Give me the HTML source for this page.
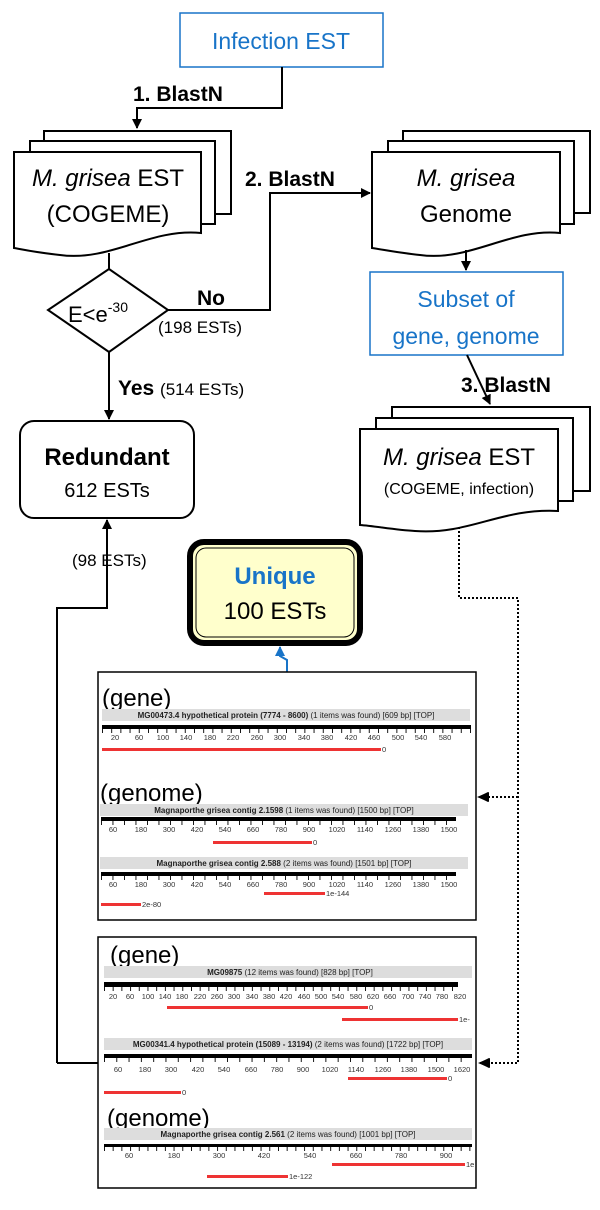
<!DOCTYPE html>
<html><head><meta charset="utf-8"><style>
html,body{margin:0;padding:0;background:#fff}
svg{display:block}
text{font-family:"Liberation Sans",Arial,sans-serif}
.s{font-size:8px;fill:#222}
.t{font-size:7.5px;fill:#333}
</style></head><body>
<svg width="600" height="1210" viewBox="0 0 600 1210" xmlns="http://www.w3.org/2000/svg">
<defs>
<marker id="ah" markerWidth="10" markerHeight="10" refX="9" refY="5" orient="auto" markerUnits="userSpaceOnUse"><path d="M0,0 L10,5 L0,10 Z" fill="#000"/></marker>
<marker id="ahb" markerWidth="10" markerHeight="10" refX="9" refY="5" orient="auto" markerUnits="userSpaceOnUse"><path d="M0,0 L10,5 L0,10 Z" fill="#1874c8"/></marker>
<pattern id="tk1" x="102" y="0" width="9.2" height="1" patternUnits="userSpaceOnUse"><rect x="0" y="0" width="0.9" height="1" fill="#000"/></pattern>
<pattern id="tk2" x="101" y="0" width="11.5" height="1" patternUnits="userSpaceOnUse"><rect x="0" y="0" width="0.9" height="1" fill="#000"/></pattern>
<pattern id="tk3" x="104" y="0" width="8.7" height="1" patternUnits="userSpaceOnUse"><rect x="0" y="0" width="0.9" height="1" fill="#000"/></pattern>
<pattern id="tk4" x="104" y="0" width="12.3" height="1" patternUnits="userSpaceOnUse"><rect x="0" y="0" width="0.9" height="1" fill="#000"/></pattern>
</defs>
<g fill="none" stroke="#000" stroke-width="2">
<rect x="180" y="13" width="203" height="54" stroke="#1874c8" stroke-width="1.5" fill="#fff"/>
<path d="M282,67 V108 H137 V128" marker-end="url(#ah)"/>
<path d="M44,131 H231 V214 H44 Z" fill="#fff"/>
<path d="M30,141 H215 V224 H30 Z" fill="#fff"/>
<path d="M14,152 H201 V233 C150,228 110,262 60,255 C40,253 25,250 14,248 Z" fill="#fff"/>
<path d="M109,253 V269"/>
<path d="M109,269 L168,310 L109,352 L48,310 Z" fill="#fff"/>
<path d="M168,310 H270 V193 H370" marker-end="url(#ah)"/>
<path d="M109,352 V419" marker-end="url(#ah)"/>
<path d="M403,131 H590 V213 H403 Z" fill="#fff"/>
<path d="M388,141 H574 V224 H388 Z" fill="#fff"/>
<path d="M372,152 H560 V233 C510,228 470,262 420,255 C400,253 385,250 372,248 Z" fill="#fff"/>
<path d="M466,250 V270" marker-end="url(#ah)"/>
<rect x="370" y="272" width="193" height="83" stroke="#1874c8" stroke-width="1.5" fill="#fff"/>
<path d="M467,355 L490,404" marker-end="url(#ah)"/>
<path d="M392,407 H590 V491 H392 Z" fill="#fff"/>
<path d="M376,418 H573 V501 H376 Z" fill="#fff"/>
<path d="M360,429 H558 V511 C500,508 470,535 415,531 C395,530 375,526 360,525 Z" fill="#fff"/>
<rect x="20" y="421" width="174" height="97" rx="14" fill="#fff"/>
<path d="M57,1063 V608 H107 V520" marker-end="url(#ah)"/>
<path d="M57,1063 H98"/>
<rect x="190" y="542" width="170" height="101" rx="14" stroke-width="6" fill="#ffffcc"/>
<rect x="196" y="548" width="158" height="89" rx="10" stroke-width="1" fill="#ffffcc"/>
<path d="M287,672 V660 L280,656 V647" stroke="#1874c8" marker-end="url(#ahb)"/>
<path d="M459,527 V598 H518 V1063 H480" stroke-dasharray="2,2" marker-end="url(#ah)"/>
<path d="M518,797 H479" stroke-dasharray="2,2" marker-end="url(#ah)"/>
<rect x="98" y="672" width="378" height="248" stroke-width="1.5" fill="#fff"/>
<rect x="98" y="937" width="378" height="251" stroke-width="1.5" fill="#fff"/>
</g>
<path d="M477,797 L489,792 L489,802 Z" fill="#000"/>
<path d="M478,1063 L490,1058 L490,1068 Z" fill="#000"/>

<text x="281" y="49" font-size="23" fill="#1874c8" text-anchor="middle">Infection EST</text>
<text x="133" y="101" font-size="21" font-weight="bold">1. BlastN</text>
<text x="108" y="186" font-size="24" text-anchor="middle"><tspan font-style="italic">M. grisea</tspan> EST</text>
<text x="108" y="222" font-size="24" text-anchor="middle">(COGEME)</text>
<text x="68" y="322" font-size="22">E&lt;e<tspan font-size="14" dy="-10">-30</tspan></text>
<text x="197" y="305" font-size="21" font-weight="bold">No</text>
<text x="158" y="333" font-size="17">(198 ESTs)</text>
<text x="245" y="186" font-size="21" font-weight="bold">2. BlastN</text>
<text x="466" y="186" font-size="24" font-style="italic" text-anchor="middle">M. grisea</text>
<text x="466" y="222" font-size="24" text-anchor="middle">Genome</text>
<text x="466" y="307" font-size="23" fill="#1874c8" text-anchor="middle">Subset of</text>
<text x="466" y="344" font-size="23" fill="#1874c8" text-anchor="middle">gene, genome</text>
<text x="461" y="392" font-size="21" font-weight="bold">3. BlastN</text>
<text x="459" y="465" font-size="24" text-anchor="middle"><tspan font-style="italic">M. grisea</tspan> EST</text>
<text x="459" y="494" font-size="16" text-anchor="middle">(COGEME, infection)</text>
<text x="118" y="395" font-size="21" font-weight="bold">Yes <tspan font-weight="normal" font-size="17">(514 ESTs)</tspan></text>
<text x="107" y="465" font-size="24" font-weight="bold" text-anchor="middle">Redundant</text>
<text x="107" y="497" font-size="20" text-anchor="middle">612 ESTs</text>
<text x="72" y="566" font-size="17">(98 ESTs)</text>
<text x="275" y="584" font-size="24" font-weight="bold" fill="#1874c8" text-anchor="middle">Unique</text>
<text x="275" y="619" font-size="24" text-anchor="middle">100 ESTs</text>

<text x="102" y="706" font-size="24">(gene)</text>
<rect x="102" y="709" width="368" height="12" fill="#ddd"/>
<text x="286" y="718" class="s" text-anchor="middle"><tspan font-weight="bold">MG00473.4 hypothetical protein (7774 - 8600)</tspan> (1 items was found) [609 bp] [TOP]</text>
<rect x="102" y="725" width="369" height="4" fill="#000"/>
<rect x="102" y="729" width="369" height="4" fill="url(#tk1)"/>
<text y="740" class="t" text-anchor="middle"><tspan x="115">20</tspan><tspan x="139">60</tspan><tspan x="163">100</tspan><tspan x="186">140</tspan><tspan x="210">180</tspan><tspan x="233">220</tspan><tspan x="257">260</tspan><tspan x="280">300</tspan><tspan x="304">340</tspan><tspan x="327">380</tspan><tspan x="351">420</tspan><tspan x="374">460</tspan><tspan x="398">500</tspan><tspan x="421">540</tspan><tspan x="445">580</tspan></text>
<rect x="102" y="748" width="279" height="3" fill="#e33"/><text x="382" y="752" class="t">0</text>
<text x="100" y="801" font-size="24">(genome)</text>
<rect x="100" y="804" width="368" height="12" fill="#ddd"/>
<text x="284" y="813" class="s" text-anchor="middle"><tspan font-weight="bold">Magnaporthe grisea contig 2.1598</tspan> (1 items was found) [1500 bp] [TOP]</text>
<rect x="101" y="817" width="355" height="4" fill="#000"/>
<rect x="101" y="821" width="355" height="4" fill="url(#tk2)"/>
<text y="832" class="t" text-anchor="middle"><tspan x="113">60</tspan><tspan x="141">180</tspan><tspan x="169">300</tspan><tspan x="197">420</tspan><tspan x="225">540</tspan><tspan x="253">660</tspan><tspan x="281">780</tspan><tspan x="309">900</tspan><tspan x="337">1020</tspan><tspan x="365">1140</tspan><tspan x="393">1260</tspan><tspan x="421">1380</tspan><tspan x="449">1500</tspan></text>
<rect x="213" y="841" width="99" height="3" fill="#e33"/><text x="313" y="845" class="t">0</text>
<rect x="100" y="857" width="368" height="12" fill="#ddd"/>
<text x="284" y="866" class="s" text-anchor="middle"><tspan font-weight="bold">Magnaporthe grisea contig 2.588</tspan> (2 items was found) [1501 bp] [TOP]</text>
<rect x="101" y="872" width="355" height="4" fill="#000"/>
<rect x="101" y="876" width="355" height="4" fill="url(#tk2)"/>
<text y="887" class="t" text-anchor="middle"><tspan x="113">60</tspan><tspan x="141">180</tspan><tspan x="169">300</tspan><tspan x="197">420</tspan><tspan x="225">540</tspan><tspan x="253">660</tspan><tspan x="281">780</tspan><tspan x="309">900</tspan><tspan x="337">1020</tspan><tspan x="365">1140</tspan><tspan x="393">1260</tspan><tspan x="421">1380</tspan><tspan x="449">1500</tspan></text>
<rect x="264" y="892" width="61" height="3" fill="#e33"/><text x="326" y="896" class="t">1e-144</text>
<rect x="101" y="903" width="40" height="3" fill="#e33"/><text x="142" y="907" class="t">2e-80</text>

<text x="110" y="963" font-size="24">(gene)</text>
<rect x="104" y="966" width="368" height="12" fill="#ddd"/>
<text x="290" y="975" class="s" text-anchor="middle"><tspan font-weight="bold">MG09875</tspan> (12 items was found) [828 bp] [TOP]</text>
<rect x="104" y="982" width="354" height="5" fill="#000"/>
<rect x="104" y="987" width="354" height="4" fill="url(#tk3)"/>
<text y="999" class="t" text-anchor="middle"><tspan x="113">20</tspan><tspan x="130">60</tspan><tspan x="148">100</tspan><tspan x="165">140</tspan><tspan x="182">180</tspan><tspan x="200">220</tspan><tspan x="217">260</tspan><tspan x="234">300</tspan><tspan x="252">340</tspan><tspan x="269">380</tspan><tspan x="286">420</tspan><tspan x="304">460</tspan><tspan x="321">500</tspan><tspan x="338">540</tspan><tspan x="356">580</tspan><tspan x="373">620</tspan><tspan x="390">660</tspan><tspan x="408">700</tspan><tspan x="425">740</tspan><tspan x="442">780</tspan><tspan x="460">820</tspan></text>
<rect x="167" y="1006" width="201" height="3" fill="#e33"/><text x="369" y="1010" class="t">0</text>
<rect x="342" y="1018" width="116" height="3" fill="#e33"/><text x="459" y="1022" class="t">1e-</text>
<rect x="104" y="1038" width="368" height="12" fill="#ddd"/>
<text x="288" y="1047" class="s" text-anchor="middle"><tspan font-weight="bold">MG00341.4 hypothetical protein (15089 - 13194)</tspan> (2 items was found) [1722 bp] [TOP]</text>
<rect x="104" y="1054" width="368" height="4" fill="#000"/>
<rect x="104" y="1058" width="368" height="4" fill="url(#tk4)"/>
<text y="1072" class="t" text-anchor="middle"><tspan x="118">60</tspan><tspan x="145">180</tspan><tspan x="171">300</tspan><tspan x="198">420</tspan><tspan x="224">540</tspan><tspan x="251">660</tspan><tspan x="277">780</tspan><tspan x="303">900</tspan><tspan x="330">1020</tspan><tspan x="356">1140</tspan><tspan x="383">1260</tspan><tspan x="409">1380</tspan><tspan x="436">1500</tspan><tspan x="462">1620</tspan></text>
<rect x="348" y="1077" width="99" height="3" fill="#e33"/><text x="448" y="1081" class="t">0</text>
<rect x="104" y="1091" width="77" height="3" fill="#e33"/><text x="182" y="1095" class="t">0</text>
<text x="107" y="1126" font-size="24">(genome)</text>
<rect x="104" y="1128" width="368" height="12" fill="#ddd"/>
<text x="288" y="1137" class="s" text-anchor="middle"><tspan font-weight="bold">Magnaporthe grisea contig 2.561</tspan> (2 items was found) [1001 bp] [TOP]</text>
<rect x="104" y="1144" width="368" height="3" fill="#000"/>
<rect x="104" y="1147" width="368" height="4" fill="url(#tk3)"/>
<text y="1158" class="t" text-anchor="middle"><tspan x="129">60</tspan><tspan x="174">180</tspan><tspan x="219">300</tspan><tspan x="264">420</tspan><tspan x="310">540</tspan><tspan x="356">660</tspan><tspan x="401">780</tspan><tspan x="446">900</tspan></text>
<rect x="332" y="1163" width="133" height="3" fill="#e33"/><text x="466" y="1167" class="t">1e</text>
<rect x="207" y="1175" width="81" height="3" fill="#e33"/><text x="289" y="1179" class="t">1e-122</text>
</svg>
</body></html>
